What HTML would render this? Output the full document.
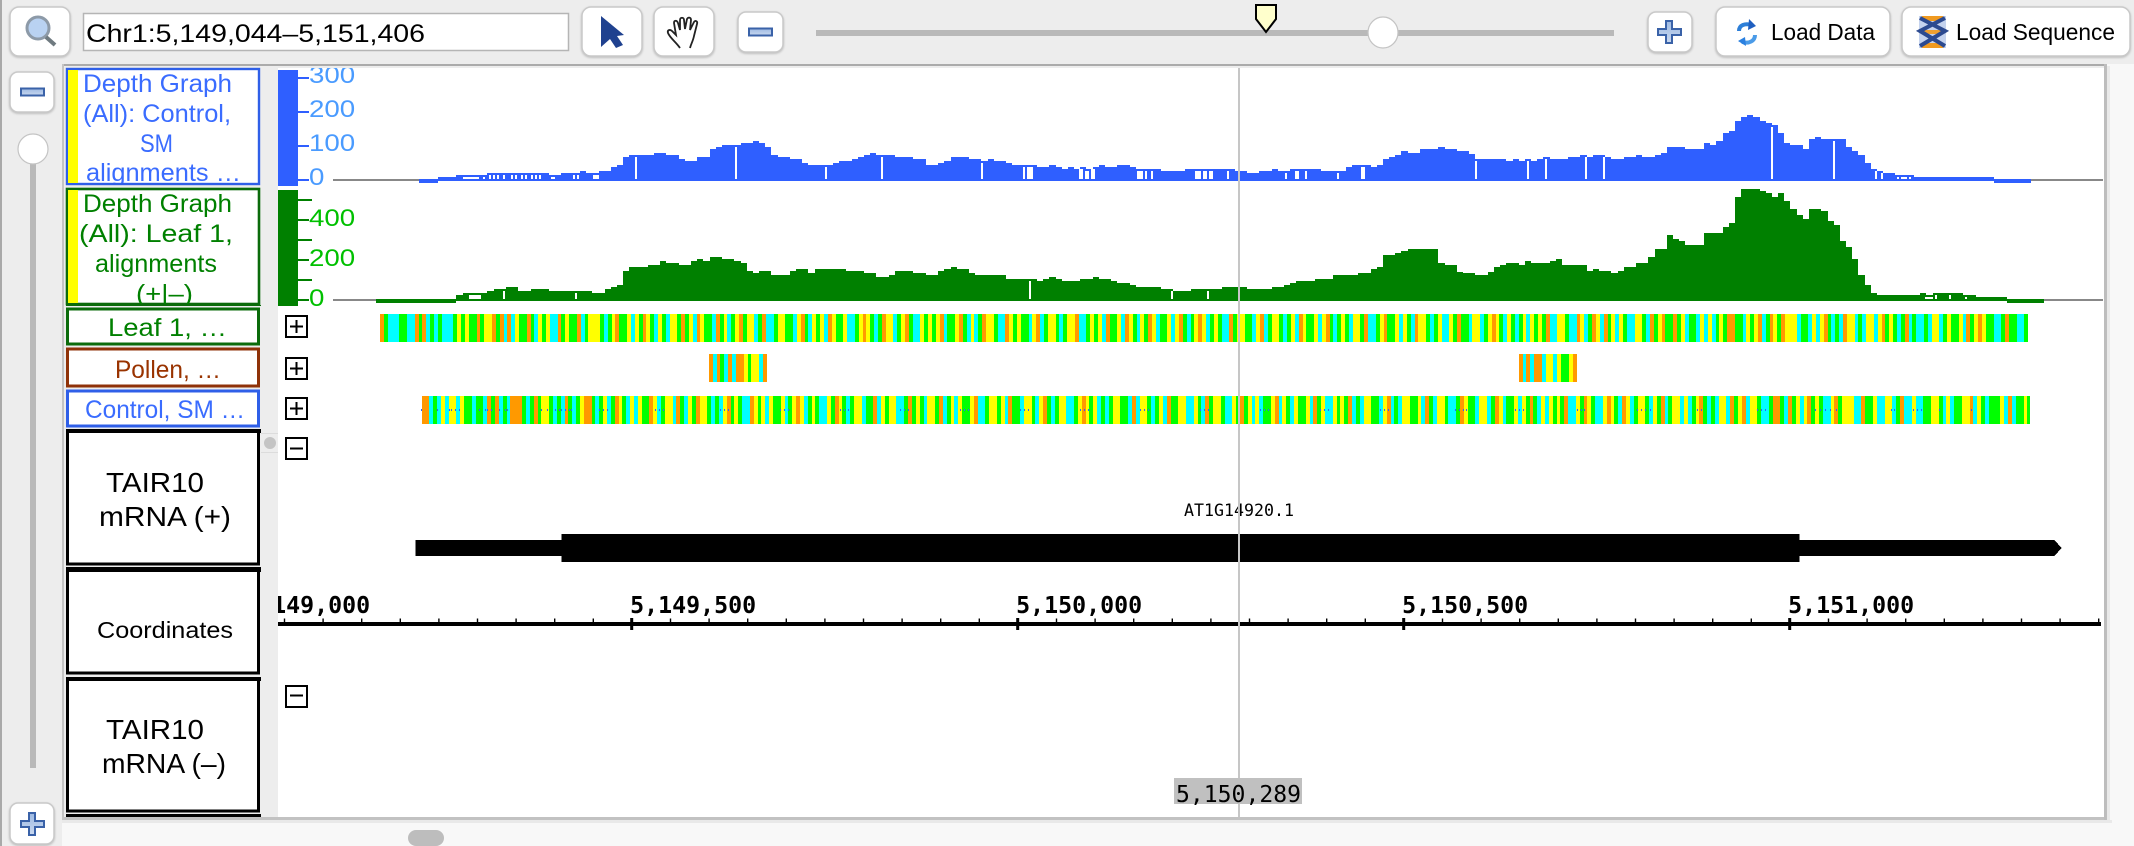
<!DOCTYPE html>
<html lang="en">
<head>
<meta charset="utf-8">
<title>Genome browser view of AT1G14920.1</title>
<style>
html,body{margin:0;padding:0;background:#ededed;width:2134px;height:846px;overflow:hidden}
svg{display:block;font-family:"Liberation Sans",sans-serif}
.mono{font-family:"DejaVu Sans Mono","Liberation Mono",monospace}
.btn{fill:#fff;stroke:#c9c9c9;stroke-width:1.5;filter:drop-shadow(0 1px 1px rgba(0,0,0,.22))}
</style>
</head>
<body>
<svg id="browser" xmlns="http://www.w3.org/2000/svg" width="2134" height="846" viewBox="0 0 2134 846">
<defs>
<clipPath id="clip-blue-axis"><rect x="298" y="68" width="70" height="119"/></clipPath>
<clipPath id="clip-green-axis"><rect x="298" y="189" width="70" height="118"/></clipPath>
<clipPath id="clip-plot"><rect x="278" y="68" width="1826" height="749"/></clipPath>
<clipPath id="clip-label-1"><rect x="68" y="70" width="191" height="113"/></clipPath>
<clipPath id="clip-label-2"><rect x="68" y="190" width="191" height="114"/></clipPath>
<linearGradient id="ic" x1="0" y1="0" x2="0" y2="1"><stop offset="0" stop-color="#9db9e2"/><stop offset="1" stop-color="#c9d8ef"/></linearGradient>
</defs>

<rect x="0" y="0" width="2134" height="846" fill="#ededed"/>
<rect x="0" y="0" width="2" height="846" fill="#a9a9a9"/>

<!-- toolbar -->
<g>
<g>
<rect class="btn" x="10" y="7" width="60" height="49" rx="9"/>
<circle cx="38" cy="28" r="11" fill="#b9d2f2" stroke="#8d9aa8" stroke-width="3"/>
<line x1="46" y1="37" x2="55" y2="45" stroke="#6f7a80" stroke-width="4"/>
</g>
<rect x="83.5" y="13.5" width="485" height="37" fill="#fff" stroke="#b5b5b5" stroke-width="1.5"/>
<text x="86" y="42" font-size="25" textLength="339" lengthAdjust="spacingAndGlyphs" fill="#000">Chr1:5,149,044–5,151,406</text>
<g>
<rect class="btn" x="582" y="7" width="60" height="49" rx="9"/>
<polygon points="601,16 601,47 610,39 616,48 623,45 617,36 624,35" fill="#1f418f"/>
</g>
<g>
<rect class="btn" x="654" y="7" width="60" height="49" rx="9"/>
<path d="M680 48 C676 42 670 38 668 33 C667 30 670 29 672 31 L676 35 L674 23 C674 20 677 20 678 23 L680 30 L680 20 C680 17 684 17 684 20 L685 29 L687 19 C688 17 691 17 691 20 L690 30 L694 22 C695 20 698 21 697 24 L694 36 C693 41 691 44 690 48" fill="#fff" stroke="#222" stroke-width="1.8"/>
</g>
<g>
<rect class="btn" x="738" y="12" width="45" height="40" rx="8"/>
<rect x="749" y="28.5" width="23" height="7" fill="url(#ic)" stroke="#3a62a8" stroke-width="2"/>
</g>
<rect x="816" y="30" width="798" height="6" fill="#b9b9b9"/>
<polygon points="1256,5 1276,5 1276,19 1266,32 1256,19" fill="#ffffcc" stroke="#000" stroke-width="2"/>
<ellipse cx="1383" cy="32.5" rx="15" ry="15.5" fill="#fff" stroke="#c4c4c4" stroke-width="1.2"/>
<g>
<rect class="btn" x="1648" y="12" width="44" height="40" rx="8"/>
<path d="M1666 21h6v8h9v6h-9v8h-6v-8h-8v-6h8z" fill="url(#ic)" stroke="#3a62a8" stroke-width="2"/>
</g>
<g>
<rect class="btn" x="1716" y="7" width="174" height="49" rx="9"/>
<g fill="none" stroke="#2d7fd8" stroke-width="4">
<path d="M1739 31 C1739 25 1745 23 1752 25"/><path d="M1755 35 C1755 41 1749 44 1742 42" stroke="#4a9be8"/>
</g>
<polygon points="1749,19 1756,26 1748,30" fill="#1f5fc0"/>
<polygon points="1745,37 1738,41 1746,46" fill="#2a80e0"/>
<text x="1771" y="40" font-size="23" textLength="104" lengthAdjust="spacingAndGlyphs" fill="#000">Load Data</text>
</g>
<g>
<rect class="btn" x="1902" y="7" width="228" height="49" rx="9"/>
<g>
<rect x="1919" y="16" width="27" height="32" fill="#c5d3ee"/>
<rect x="1922" y="16" width="21" height="5" fill="#f09a20"/>
<rect x="1923" y="30" width="19" height="4" fill="#f0a030"/>
<rect x="1922" y="43" width="21" height="5" fill="#f09a20"/>
<path d="M1920 18 L1945 31 L1920 46 M1945 18 L1920 31 L1945 46" fill="none" stroke="#2c4a90" stroke-width="4"/>
</g>
<text x="1956" y="40" font-size="23" textLength="159" lengthAdjust="spacingAndGlyphs" fill="#000">Load Sequence</text>
</g>
</g>

<!-- left vertical zoom -->
<g>
<g>
<rect class="btn" x="10" y="72" width="44" height="40" rx="8"/>
<rect x="21" y="88.5" width="23" height="7" fill="url(#ic)" stroke="#3a62a8" stroke-width="2"/>
</g>
<rect x="30" y="160" width="6" height="608" fill="#b9b9b9"/>
<ellipse cx="33" cy="149" rx="15" ry="15" fill="#fff" stroke="#c4c4c4" stroke-width="1.2"/>
<g>
<rect class="btn" x="10" y="803" width="44" height="41" rx="8"/>
<path d="M29 813h6v8h9v6h-9v8h-6v-8h-8v-6h8z" fill="url(#ic)" stroke="#3a62a8" stroke-width="2"/>
</g>
</g>

<!-- panel frame -->
<rect x="2107" y="64" width="27" height="782" fill="#f8f8f8"/>
<rect x="62" y="820" width="2072" height="26" fill="#f8f8f8"/>
<rect x="62" y="820" width="2050" height="3" fill="#e9e9e9"/>
<rect x="2107" y="66" width="3" height="757" fill="#e9e9e9"/>
<rect x="62" y="64" width="2045" height="2" fill="#ababab"/>
<rect x="62" y="64" width="2" height="756" fill="#c4c4c4"/>
<rect x="278" y="68" width="1826" height="749" fill="#fff"/>
<rect x="64" y="817" width="2043" height="3" fill="#c2c2c2"/>
<rect x="2104" y="64" width="3" height="756" fill="#bdbdbd"/>
<rect x="408" y="830" width="36" height="16" rx="8" fill="#bdbdbd"/>

<!-- track label column -->
<g>
<g>
<rect x="67" y="69" width="192" height="115" fill="#fff" stroke="#2f5fe8" stroke-width="2.4"/>
<rect x="68" y="70" width="10" height="113" fill="#ffff00"/>
<g clip-path="url(#clip-label-1)" fill="#3a6cff" font-size="25">
<text x="83" y="92" textLength="149" lengthAdjust="spacingAndGlyphs">Depth Graph</text>
<text x="83" y="122" textLength="148" lengthAdjust="spacingAndGlyphs">(All):  Control,</text>
<text x="140" y="152" textLength="33" lengthAdjust="spacingAndGlyphs">SM</text>
<text x="86" y="181" textLength="155" lengthAdjust="spacingAndGlyphs">alignments  …</text>
</g>
</g>
<g>
<rect x="67" y="189" width="192" height="115" fill="#fff" stroke="#0b6b0b" stroke-width="2.6"/>
<rect x="68" y="190" width="10" height="113" fill="#ffff00"/>
<g clip-path="url(#clip-label-2)" fill="#008000" font-size="25">
<text x="83" y="212" textLength="149" lengthAdjust="spacingAndGlyphs">Depth Graph</text>
<text x="79" y="242" textLength="154" lengthAdjust="spacingAndGlyphs">(All):  Leaf  1,</text>
<text x="95" y="272" textLength="122" lengthAdjust="spacingAndGlyphs">alignments</text>
<text x="136" y="302" textLength="57" lengthAdjust="spacingAndGlyphs">(+|–)</text>
</g>
</g>
<rect x="66" y="305" width="195" height="1" fill="#0b6b0b"/>
<g>
<rect x="67.5" y="309" width="191" height="35" fill="#fff" stroke="#0b6b0b" stroke-width="3"/>
<text x="108" y="336" font-size="25" fill="#008000" textLength="119" lengthAdjust="spacingAndGlyphs">Leaf  1,  …</text>
</g>
<g>
<rect x="67.5" y="349" width="191" height="37" fill="#fff" stroke="#8f3208" stroke-width="3"/>
<text x="115" y="378" font-size="25" fill="#993300" textLength="106" lengthAdjust="spacingAndGlyphs">Pollen,  …</text>
</g>
<g>
<rect x="67.5" y="391" width="191" height="35" fill="#fff" stroke="#2f5fe8" stroke-width="3"/>
<text x="85" y="418" font-size="25" fill="#3a6cff" textLength="160" lengthAdjust="spacingAndGlyphs">Control, SM  …</text>
</g>
<g>
<rect x="67.5" y="431" width="191" height="133" fill="#fff" stroke="#000" stroke-width="3"/>
<rect x="66" y="429" width="195" height="4" fill="#000"/>
<text x="106" y="492" font-size="28" fill="#000" textLength="98" lengthAdjust="spacingAndGlyphs">TAIR10</text>
<text x="99" y="526" font-size="28" fill="#000" textLength="132" lengthAdjust="spacingAndGlyphs">mRNA (+)</text>
</g>
<g>
<rect x="67.5" y="569" width="191" height="104" fill="#fff" stroke="#000" stroke-width="3"/>
<rect x="66" y="567" width="195" height="5" fill="#000"/>
<text x="97" y="638" font-size="23" fill="#000" textLength="136" lengthAdjust="spacingAndGlyphs">Coordinates</text>
</g>
<g>
<rect x="67.5" y="679" width="191" height="132" fill="#fff" stroke="#000" stroke-width="3"/>
<rect x="66" y="677" width="195" height="4" fill="#000"/>
<text x="106" y="739" font-size="28" fill="#000" textLength="98" lengthAdjust="spacingAndGlyphs">TAIR10</text>
<text x="102" y="773" font-size="28" fill="#000" textLength="124" lengthAdjust="spacingAndGlyphs">mRNA (–)</text>
</g>
<rect x="66" y="814" width="195" height="3" fill="#000"/>
</g>

<!-- divider handle -->
<g>
<line x1="261" y1="433.5" x2="278" y2="433.5" stroke="#dcdcdc"/>
<line x1="261" y1="452.5" x2="278" y2="452.5" stroke="#dcdcdc"/>
<circle cx="270" cy="443" r="6" fill="#c4c4c4"/>
</g>

<!-- graph axes -->
<g>
<rect x="278" y="70" width="20" height="116" fill="#2f5fff"/>
<g id="blue-axis" clip-path="url(#clip-blue-axis)"></g>
<rect x="333" y="179" width="1770" height="2" fill="#888"/>
</g>
<g>
<rect x="278" y="190" width="20" height="116" fill="#008000"/>
<g id="green-axis" clip-path="url(#clip-green-axis)"></g>
<rect x="333" y="299" width="1770" height="2" fill="#888"/>
</g>

<g id="blue-bars" shape-rendering="crispEdges"></g>
<g id="green-bars" shape-rendering="crispEdges"></g>

<!-- heat tracks -->
<g id="leaf-track" shape-rendering="crispEdges"></g>
<g id="pollen-track" shape-rendering="crispEdges"></g>
<g id="control-track" shape-rendering="crispEdges"></g>

<!-- expanders -->
<g fill="#fff" stroke="#000" stroke-width="2"><rect x="286" y="316" width="21" height="21"/><path d="M296.5 320v13M290 326.5h13" fill="none"/></g>
<g fill="#fff" stroke="#000" stroke-width="2"><rect x="286" y="358" width="21" height="21"/><path d="M296.5 362v13M290 368.5h13" fill="none"/></g>
<g fill="#fff" stroke="#000" stroke-width="2"><rect x="286" y="398" width="21" height="21"/><path d="M296.5 402v13M290 408.5h13" fill="none"/></g>
<g fill="#fff" stroke="#000" stroke-width="2"><rect x="286" y="438" width="21" height="21"/><path d="M290 448.5h13" fill="none"/></g>
<g fill="#fff" stroke="#000" stroke-width="2"><rect x="286" y="686" width="21" height="21"/><path d="M290 695.5h13" fill="none"/></g>

<!-- gene -->
<g id="gene" shape-rendering="crispEdges"></g>
<text class="mono" x="1184" y="516" font-size="17" textLength="110" lengthAdjust="spacingAndGlyphs" fill="#000">AT1G14920.1</text>

<!-- coordinates -->
<g id="coord-axis" clip-path="url(#clip-plot)"></g>

<!-- cursor -->
<rect x="1238" y="68" width="2" height="749" fill="#c6c6c6"/>
<rect x="1174" y="778" width="128" height="26" fill="#c0c0c0"/>
<text class="mono" x="1176" y="802" font-size="23" textLength="125" lengthAdjust="spacingAndGlyphs" fill="#000">5,150,289</text>

<script>
// ---- chart data (genomic coordinates and read depth) ----
const axisOriginBp = 5150000;
const majorTickBp = [5149000, 5149500, 5150000, 5150500, 5151000];
const majorTickLabels = ["5,149,000", "5,149,500", "5,150,000", "5,150,500", "5,151,000"];
const minorTickStartBp = 5149050;
const minorTickEndBp = 5151400;
const minorTickStepBp = 50;

const controlTicks = [0, 100, 200, 300];
const controlTickLabels = ["0", "100", "200", "300"];
const leafTicks = [0, 200, 400];
const leafTickLabels = ["0", "200", "400"];
const leafMinorTicks = [100, 300, 500];

const depthStartBp = 5149161;
const depthBinBp = 8;
const controlDepth = [null,null,null,null,null,null,null,null,1,1,1,9,9,9,15,15,15,15,15,21,21,21,21,21,21,21,21,21,21,15,15,21,21,21,26,21,21,26,26,38,44,68,74,74,74,74,79,79,74,74,62,56,56,68,68,91,97,103,103,103,109,109,115,109,97,74,68,68,62,62,50,44,44,44,44,50,56,56,62,68,74,79,74,74,74,
68,68,68,62,62,44,44,50,56,68,68,68,62,62,56,62,56,56,50,44,44,44,44,38,38,44,38,32,38,32,38,32,38,44,38,38,44,44,38,32,32,32,32,26,26,26,26,32,32,32,32,32,32,32,32,26,26,21,21,26,26,32,26,26,32,32,32,32,32,26,26,26,26,38,44,44,44,38,44,62,68,74,85,79,
79,91,91,91,97,91,91,85,85,76,62,62,62,62,
62,56,62,56,62,56,62,68,62,62,62,68,68,74,68,74,74,68,62,62,68,68,74,68,68,74,79,97,97,97,91,91,91,109,103,115,138,144,174,185,191,185,174,168,162,138,109,103,103,91,121,126,121,121,121,121,97,85,74,50,32,26,21,21,15,15,15,9,
9,9,9,9,9,9,9,9,9,9,9,9,1,1,1,1,1,1];
const leafDepth = [null,1,1,1,1,1,1,1,1,1,1,1,1,1,25,35,35,35,35,45,55,55,65,65,45,45,55,55,55,45,45,45,45,45,45,45,35,35,55,65,75,145,165,165,165,175,175,195,185,185,175,175,195,205,195,215,215,205,205,195,185,145,135,145,145,125,125,125,145,155,155,135,155,155,155,155,155,145,145,145,135,135,115,115,125,
145,145,145,135,135,125,125,145,155,165,155,155,135,125,125,125,125,125,105,105,105,105,105,95,105,115,105,95,95,95,105,105,115,105,105,95,85,85,75,65,65,65,65,55,55,45,45,45,55,55,55,55,55,65,65,65,65,55,55,55,55,65,65,75,85,95,95,95,105,105,105,125,125,125,125,135,135,155,165,225,225,235,245,255,
255,255,255,255,183,175,175,142,135,135,125,125,142,167,
175,185,185,175,195,185,185,185,195,205,175,175,175,175,145,155,145,145,135,145,165,165,185,185,215,255,255,325,305,295,275,275,275,335,335,335,365,385,515,555,555,555,545,535,515,535,495,455,425,405,455,455,445,395,375,295,265,205,125,75,35,25,25,25,25,25,25,25,
35,25,35,35,35,35,35,25,25,15,15,15,15,15,1,1,1,1,1,1];

// notches where reads are absent: start bp offset from 5,149,000 and length in bp
const gapOriginBp = 5149000;
const controlGapStart = [281.5,307.4,315,320.2,325.4,333.2,343.6,348.8,356.6,361.8,369.6,374.7,379.9,395.5,424,429.1,449.9,504.3,633.8,750.4,822.9,952.5,1006.9,1012,1079.4,1087.2,1095,1154.8,1165.1,1172.9,1229.6,1240,1247.8,1271.1,1346.2,1359.2,1372.2,1413.6,1444.7,1592.3,1659.7,1683,1734.8,1758.2,1975.8,2056.1,2110.5,2118.3,2139,2144.2,2154.6];
const controlGapLength = [20.7,2.6,2.6,2.6,2.6,2.6,2.6,2.6,2.6,2.6,2.6,2.6,2.6,5.2,2.6,2.6,7.8,2.6,2.6,2.6,2.6,2.6,2.6,7.8,5.2,5.2,5.2,7.8,2.6,2.6,7.8,5.2,5.2,2.6,2.6,5.2,2.6,2.6,5.2,2.6,2.6,2.6,2.6,2.6,2.6,2.6,2.6,2.6,2.6,7.8,2.6];
const leafGapStart = [289.2,333.2,426.6,1014.7,1198.7,1245.3,2175.3,2188.3,2206.5,2227.2];
const leafGapLength = [15.5,2.6,2.6,2.6,2.6,2.6,10.4,2.6,2.6,2.6];

// per-position dominant base in the coverage summary tracks: C,G,Y,O categories
const heatBinBp = 5;
const leafHeatStartBp = 5149174;
const leafHeatEndBp = 5151309;
const leafHeat = "OGCCCGGCCOGOCGCGCCCGYGYGGOGYYOGOCOCYGGOGCYGYCCOGYG"+
"GOCGYYYGCGYOGGYCYGOYGCYGCYYGOGYCOYGGCOGYCGYOGYYCGO"+
"CCGYYGGCYOGCYGYCOYGGYCCGYOYGCGOYYCGYOGCCYGYGYOCGGY"+
"OGCYCGOYYGCCOYGYGGCYOCGYYGCGYYOCCGYGYCOGGYCOYGCYGO"+
"YCGGYCYOGCGYOYCGYGCCOGYYGGCYOCGYYGCGYCOYGGYCYOGCGY"+
"GCYYGOCCGYOGGYCYGCOYYGCGYCCYGOGGCYYCGYOYGCYGCGYCYG"+
"YGOCCYYGCCOYCGOYCOGYCYGCCYYGCOGYOGGOGYCGGCYCYCGYGO"+
"OGGCYGYOCGOYGOYYYCGGCYCYOGCGCOYYCGCYYCYOGYGCGOCGCC"+
"GCYYCGYGGYCOGYOYGGCCGOGGCCG";
const pollenHeatStartBp = [5149600, 5150649];
const pollenHeatEndBp = [5149678, 5150724];
const pollenHeat = ["OCOGCOCOOYGYYCO", "OCOCOOCYYCYGGYO"];
const controlHeatStartBp = 5149228;
const controlHeatEndBp = 5151311;
const controlHeat = "OOCGCYCYYCYGGCGGCOGOCGCOOOGCGOGYYGCGCOGCGYOOGCGYCG"+
"OYGCYCYGGOYCGYYCOGCYGOYYGCGCYOGYGCCOYGYCYGGYCGYOYC"+
"GYGCCYGOYGCGYYCGGOCYGYYCCGOGYGCYYGOCGYCYGGYOCCGYYG"+
"YCOGGCYYGCYOGCGYYCCGYOYGYCGCGYYGGCOCYYGCGYCOGGYYCC"+
"YGCOGYYGCCYGOGYCYCGGYOCYGCYGGYCOGYCCYGYGOCGCYYGGCY"+
"OCGCYYGGYCOGCYYGCCGOYGGCYYCGOYCGGYCYGOGCYCYGYGOCCY"+
"GOYGCCYOYGCOYCGYYGCYGOCGYYCYCGYOGCGCYYCOGYOCYYGCCG"+
"OOGCOGYCYOGYGCCYOGYYYCCOGGYCCYYCGOCCYCCGGYYGCYCGGY"+
"YOCYGCGGGYCOCGGYGGO";
const controlInsertBp = [227,248,263,266,271,276,302,310,312,318,328,336,338,382,390,401,406,408,414,419,421,458,463,468,530,535,541,614,620,625,692,697,702,770,775,780,848,853,858,925,930,936,1003,1008,1013,1081,1086,1091,1158,1164,1169,1236,1241,1246,1314,1319,1324,1392,1397,1402,1469,1475,1480,1566,1572,1577,1581,1644,1649,1655,1725,1730,1734,1802,1807,1813,1819,1880,1885,1958,1963,1968,2033,2039,2046,2052,2060,2131,2135,2160,2165,2170,2193,2235];

const geneStartBp = 5149220;
const cdsStartBp = 5149409;
const cdsEndBp = 5151013;
const geneEndBp = 5151343;

// ---- axis functions ----
const xScale = bp => 1017.7 + (bp - axisOriginBp) * 0.772;
const xPixel = bp => Math.round(xScale(bp));
const yControl = v => 180 - v * 0.34;
const yLeaf = v => 300 - v * 0.2;
const heatColor = {C:'#00ffff', G:'#00ff00', Y:'#ffff00', O:'#ff9900'};

const SVGNS = 'http://www.w3.org/2000/svg';
function shape(parent, tag, props) {
  const el = document.createElementNS(SVGNS, tag);
  for (const k in props) el.setAttribute(k, props[k]);
  parent.appendChild(el);
  return el;
}

// y axes
const blueAxis = document.getElementById('blue-axis');
controlTicks.forEach((t, i) => {
  const tick = shape(blueAxis, 'rect', {x:298, y:yControl(t)-1, width:11, height:2, fill:'#2f5fff'});
  
  
  const label = shape(blueAxis, 'text', {x:309, y:yControl(t)+5, 'font-size':24, fill:'#4a9bff', textLength:controlTickLabels[i].length*15.4, lengthAdjust:'spacingAndGlyphs'});
  
  
  label.textContent = controlTickLabels[i];
});
const greenAxis = document.getElementById('green-axis');
leafTicks.forEach((t, i) => {
  const tick = shape(greenAxis, 'rect', {x:298, y:yLeaf(t)-1, width:11, height:2, fill:'#008000'});
  
  
  const label = shape(greenAxis, 'text', {x:309, y:yLeaf(t)+6, 'font-size':24, fill:'#00c000', textLength:leafTickLabels[i].length*15.4, lengthAdjust:'spacingAndGlyphs'});
  
  
  label.textContent = leafTickLabels[i];
});
leafMinorTicks.forEach(t => {
  const tick = shape(greenAxis, 'rect', {x:298, y:yLeaf(t)-1, width:14, height:2, fill:'#008000'});
  
  
});

// depth bars
function drawDepth(host, values, gapsStart, gapsLen, yFn, axisBottom, lowTop, lowBottom, color) {
  values.forEach((v, i) => {
    if (v === null) return;
    const bp = depthStartBp + i * depthBinBp;
    const x0 = xPixel(bp), x1 = xPixel(bp + depthBinBp);
    const low = v <= 2;
    const top = low ? lowTop : Math.round(yFn(v));
    const bottom = low ? lowBottom : axisBottom;
    const bar = shape(host, 'rect', {x:x0, y:top, width:x1-x0, height:bottom-top, fill:color});
    
    
  });
  gapsStart.forEach((g, i) => {
    const bp = gapOriginBp + g;
    const idx = Math.min(values.length-1, Math.max(0, Math.floor((bp + gapsLen[i]/2 - depthStartBp) / depthBinBp)));
    const v = values[idx] || 0;
    const top = Math.round(yFn(v)) + 2;
    const bottom = axisBottom - 2;
    if (bottom <= top) return;
    const gap = shape(host, 'rect', {x:xPixel(bp), y:top, width:Math.max(2, Math.round(gapsLen[i]*0.772)), height:bottom-top, fill:'#fff'});
    
    
  });
}
drawDepth(document.getElementById('blue-bars'), controlDepth, controlGapStart, controlGapLength, yControl, 181, 179, 183, '#2f5fff');
drawDepth(document.getElementById('green-bars'), leafDepth, leafGapStart, leafGapLength, yLeaf, 301, 299, 303, '#008000');

// heat tracks
function drawHeat(host, seq, startBp, endBp, top, height) {
  for (let i = 0; i < seq.length; i++) {
    const bp = startBp + i * heatBinBp;
    if (bp >= endBp) break;
    const x0 = xPixel(bp), x1 = xPixel(Math.min(endBp, bp + heatBinBp));
    const stripe = shape(host, 'rect', {x:x0, y:top, width:x1-x0, height:height, fill:heatColor[seq[i]]});
    
    
  }
}
drawHeat(document.getElementById('leaf-track'), leafHeat, leafHeatStartBp, leafHeatEndBp, 314, 28);
pollenHeat.forEach((seq, i) => drawHeat(document.getElementById('pollen-track'), seq, pollenHeatStartBp[i], pollenHeatEndBp[i], 354, 28));
const controlHost = document.getElementById('control-track');
drawHeat(controlHost, controlHeat, controlHeatStartBp, controlHeatEndBp, 396, 28);
controlInsertBp.forEach(o => {
  const mark = shape(controlHost, 'rect', {x:xPixel(gapOriginBp + o), y:409, width:1, height:2, fill:'#2f5fff'});
  
  
});

// gene model
const geneHost = document.getElementById('gene');
const utr5 = shape(geneHost, 'rect', {x:xScale(geneStartBp), y:540, width:xScale(cdsStartBp)-xScale(geneStartBp), height:16, fill:'#000'});


const cds = shape(geneHost, 'rect', {x:xScale(cdsStartBp), y:534, width:xScale(cdsEndBp)-xScale(cdsStartBp), height:28, fill:'#000'});


const xUtrEnd = xScale(geneEndBp);
const utr3 = shape(geneHost, 'polygon', {points:`${xScale(cdsEndBp)},540 ${xUtrEnd},540 ${xUtrEnd+7},548 ${xUtrEnd},556 ${xScale(cdsEndBp)},556`, fill:'#000'});



// coordinate axis
const coordHost = document.getElementById('coord-axis');
const coordLine = shape(coordHost, 'rect', {x:278, y:622, width:1823, height:4, fill:'#000'});


for (let bp = minorTickStartBp; bp <= minorTickEndBp; bp += minorTickStepBp) {
  const minor = shape(coordHost, 'rect', {x:xScale(bp)-0.5, y:618.5, width:1.4, height:4, fill:'#000'});
  
  
}
majorTickBp.forEach((bp, i) => {
  const major = shape(coordHost, 'rect', {x:xScale(bp)-1.5, y:618, width:3, height:12, fill:'#000'});
  
  
  const label = shape(coordHost, 'text', {x:xScale(bp)-1.5, y:613, 'font-size':23, 'font-weight':'bold', 'class':'mono', fill:'#000', textLength:126, lengthAdjust:'spacingAndGlyphs'});
  
  
  label.textContent = majorTickLabels[i];
});
</script>
</svg>
</body>
</html>
